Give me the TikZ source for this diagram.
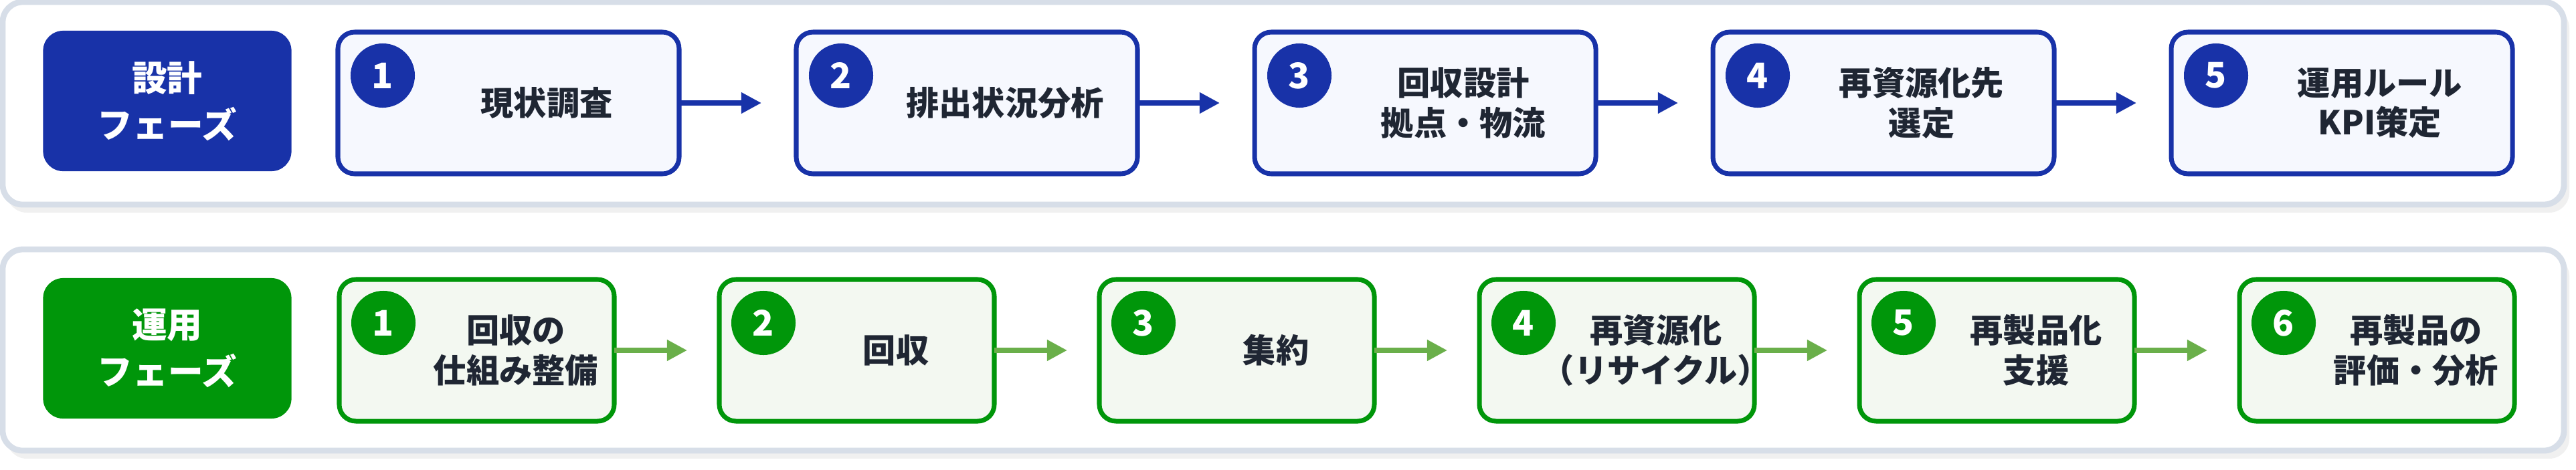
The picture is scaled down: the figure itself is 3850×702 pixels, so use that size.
\documentclass[tikz,border=0pt]{standalone}
\usepackage{fontspec}
\setmainfont{Noto Sans CJK JP}
\usetikzlibrary{arrows.meta, positioning}
\definecolor{dblue}{HTML}{1832A8}
\definecolor{dgreen}{HTML}{00960A}
\definecolor{lblue}{HTML}{F6F8FE}
\definecolor{lgreen}{HTML}{F3F8F1}
\definecolor{agreen}{HTML}{6AAF4A}
\definecolor{frame}{HTML}{D7DEE8}
\definecolor{ink}{HTML}{1F2633}
\tikzset{
  panel/.style={draw=frame, line width=2.5pt, fill=white, rounded corners=0.3cm},
  phase/.style={fill=#1, rounded corners=0.3cm, text=white, font=\bfseries\fontsize{15}{20}\selectfont, align=center},
  step/.style={draw=#1, line width=2pt, rounded corners=0.25cm},
  num/.style={circle, fill=#1, minimum size=0.96cm, inner sep=0pt, text=white, font=\bfseries\fontsize{15}{18}\selectfont},
  lbl/.style={text=ink, font=\bfseries\fontsize{14}{17}\selectfont, align=center},
}
\begin{document}
\begin{tikzpicture}[x=0.01cm, y=-0.01cm]
\useasboundingbox (0,0) rectangle (3850,702);
% panels with soft shadow
\fill[black!6, rounded corners=0.3cm] (10,12) rectangle (3840,318);
\draw[panel] (4,3) rectangle (3832,306);
\fill[black!6, rounded corners=0.3cm] (10,383) rectangle (3840,686);
\draw[panel] (4,373) rectangle (3832,674);

% design phase
\node[phase=dblue, minimum width=3.71cm, minimum height=2.1cm] (dp) at (250,151) {設計\\フェーズ};
\foreach \i/\t in {1/現状調査, 2/排出状況分析, 3/回収設計\\拠点・物流, 4/再資源化先\\選定, 5/運用ルール\\KPI策定} {
  \pgfmathsetmacro{\xl}{505+(\i-1)*685}
  \draw[step=dblue, fill=lblue] (\xl,48) rectangle ++(510,212);
  \coordinate (d\i w) at (\xl,154);
  \coordinate (d\i e) at (\xl+510,154);
  \node[num=dblue] (dn\i) at (\xl+67,113) {\i};
  \node[lbl] (dt\i) at (\xl+312,154) {\t};
}
\foreach \i [count=\j from 2] in {1,...,4}
  \draw[dblue, line width=2pt, -{Triangle[length=0.3cm, width=0.3cm]}, shorten >=0.52cm] (d\i e) -- (d\j w);

% operation phase
\node[phase=dgreen, minimum width=3.71cm, minimum height=2.1cm] (op) at (250,521) {運用\\フェーズ};
\foreach \i/\t in {1/回収の\\仕組み整備, 2/回収, 3/集約, 4/再資源化\\（リサイクル）, 5/再製品化\\支援, 6/再製品の\\評価・分析} {
  \pgfmathsetmacro{\xl}{507+(\i-1)*568}
  \draw[step=dgreen, fill=lgreen] (\xl,418) rectangle ++(411,212);
  \coordinate (o\i w) at (\xl,524);
  \coordinate (o\i e) at (\xl+411,524);
  \node[num=dgreen] (on\i) at (\xl+66,483) {\i};
  \node[lbl] (ot\i) at (\xl+264,524) {\t};
}
\foreach \i [count=\j from 2] in {1,...,5}
  \draw[agreen, line width=2pt, -{Triangle[length=0.3cm, width=0.3cm]}, shorten >=0.48cm] (o\i e) -- (o\j w);
\end{tikzpicture}
\end{document}
